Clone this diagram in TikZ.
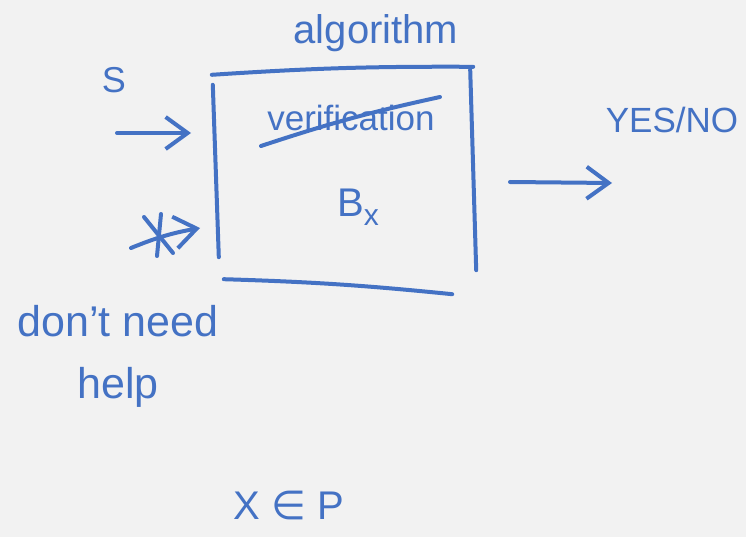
\documentclass[tikz,border=0pt]{standalone}
\usepackage{fontspec}
\setmainfont{Liberation Sans}
\newfontfamily\symfont{DejaVu Sans}
\usetikzlibrary{arrows.meta,positioning}
\definecolor{ink}{RGB}{68,114,196}
\definecolor{paper}{RGB}{242,242,242}
\tikzset{
  pen/.style     = {draw=ink, line width=4pt, line cap=round, line join=round},
  hand/.style    = {text=ink, inner sep=0pt, align=center},
  big/.style     = {hand, font=\fontsize{40}{60}\selectfont},
  mid/.style     = {hand, font=\fontsize{35}{40}\selectfont},
  small/.style   = {hand, font=\fontsize{36}{40}\selectfont}
}

\begin{document}
\begin{tikzpicture}[x=1pt, y=-1pt,
  >={Straight Barb[length=22pt, width=32pt, line width=4pt]}]

% page
\fill[paper] (0,0) rectangle (746,537);
\useasboundingbox (0,0) rectangle (746,537);

% the box and its labels
\node[minimum width=259pt, minimum height=215pt, inner sep=0pt] (b) at (344.5,177.5) {};
\node[big] (alg) at (376,33) {algorithm};
\node[mid] (verif) at (351,118) {verification};
\node[big] (bx) at (358,207) {B\raisebox{-9pt}{\fontsize{30}{36}\selectfont x}};

\draw[pen] ([shift={(-3,5)}]b.north west) to[bend left=2] ([shift={(-1,-3)}]b.north east);
\draw[pen] ([shift={(-2,15)}]b.north west) -- ([shift={(4,-28)}]b.south west);
\draw[pen] ([shift={(-4,0)}]b.north east) -- ([shift={(2,-15)}]b.south east);
\draw[pen] ([shift={(9,-6)}]b.south west) to[bend left=2] ([shift={(-22,9)}]b.south east);

% crossed out
\draw[pen] ([shift={(-90,28)}]verif.center) to[bend left=3] ([shift={(89,-21)}]verif.center);

% inputs
\node[small] (s) at (114,80) {S};
\coordinate (s in) at (117,133);
\coordinate (s tip) at (191,133);
\draw[pen,->] (s in) -- (s tip);

\coordinate (star) at (158,236);
\coordinate (w in) at (131,248);
\coordinate (w tip) at (200,228);
\draw[pen,->] (w in) to[bend left=6] (w tip);
\draw[pen] (star) +(3,-22) -- +(-1,20);
\draw[pen] (star) +(-14,-19) -- +(15,17);

\node[big,font=\fontsize{43}{62}\selectfont] (help) at (118,356) {don't need\\help};

% output
\node[mid] (yesno) at (672,120) {YES/NO};
\coordinate (out from) at (510,182);
\coordinate (out tip) at (612,183);
\draw[pen,->] (out from) -- (out tip);

\node[big] (xinp) at (289,505) {X {\symfont ∈} P};

\end{tikzpicture}
\end{document}
